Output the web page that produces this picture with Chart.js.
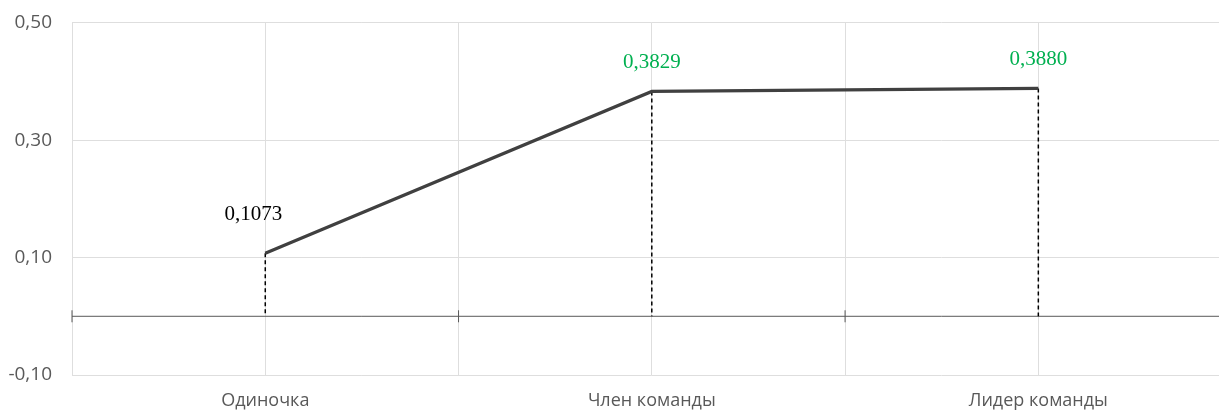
<!DOCTYPE html>
<html>
<head>
<meta charset="utf-8">
<script src="https://cdn.jsdelivr.net/npm/chart.js@4/dist/chart.umd.min.js"></script>
<style>
  html, body { margin: 0; padding: 0; overflow: hidden; background: #fff; }
  #wrap { position: relative; width: 1240px; height: 410px; }
</style>
</head>
<body>
<div id="wrap"><canvas id="myChart"></canvas></div>
<script>
// Données
var categories = ['Одиночка', 'Член команды', 'Лидер команды'];
var values = [0.1073, 0.3829, 0.3880];
var yTickValues = [-0.10, 0.10, 0.30, 0.50];

// Style des étiquettes (couleur, décalage)
var labelColors = ['#000000', '#00b050', '#00b050'];
var labelShift = [{ dx: -12, dy: -33 }, { dx: 0, dy: -23 }, { dx: 0, dy: -23 }];

function fmt(v, d) {
  return v.toFixed(d).replace('.', ',');
}

// Axe zéro + graduations, lignes de rappel, étiquettes
var extras = {
  id: 'extras',
  beforeDatasetsDraw: function(chart) {
    var ctx = chart.ctx, x = chart.scales.x, y = chart.scales.y;
    var y0 = y.getPixelForValue(0);
    var half = (x.getPixelForValue(1) - x.getPixelForValue(0)) / 2;
    ctx.save();
    // axe horizontal à 0
    ctx.strokeStyle = '#595959';
    ctx.lineWidth = 1;
    ctx.beginPath();
    ctx.moveTo(chart.chartArea.left, y0);
    ctx.lineTo(chart.chartArea.right, y0);
    for (var i = 0; i <= categories.length; i++) {
      var bx = x.getPixelForValue(0) - half + i * 2 * half;
      ctx.moveTo(bx, y0 - 6);
      ctx.lineTo(bx, y0 + 6);
    }
    ctx.stroke();
    // lignes de rappel
    ctx.strokeStyle = '#000';
    ctx.lineWidth = 1.5;
    ctx.setLineDash([4, 3]);
    values.forEach(function(v, i) {
      var px = x.getPixelForValue(i);
      ctx.beginPath();
      ctx.moveTo(px, y.getPixelForValue(v));
      ctx.lineTo(px, y0);
      ctx.stroke();
    });
    ctx.restore();
  },
  afterDatasetsDraw: function(chart) {
    var ctx = chart.ctx, x = chart.scales.x, y = chart.scales.y;
    ctx.save();
    ctx.font = '21px "Liberation Serif", "Times New Roman", serif';
    ctx.textAlign = 'center';
    ctx.textBaseline = 'alphabetic';
    values.forEach(function(v, i) {
      ctx.fillStyle = labelColors[i];
      ctx.fillText(fmt(v, 4), x.getPixelForValue(i) + labelShift[i].dx, y.getPixelForValue(v) + labelShift[i].dy);
    });
    ctx.restore();
  }
};

var ctx = document.getElementById('myChart').getContext('2d');
var myChart = new Chart(ctx, {
  type: 'line',
  data: {
    labels: categories,
    datasets: [{
      data: values,
      borderColor: '#404040',
      borderWidth: 3.2,
      pointRadius: 0,
      tension: 0,
      fill: false
    }]
  },
  options: {
    responsive: true,
    maintainAspectRatio: false,
    animation: false,
    layout: { padding: { top: 22.7, right: 8.4, left: 0, bottom: 0 } },
    plugins: { legend: { display: false }, tooltip: { enabled: false } },
    scales: {
      x: {
        offset: true,
        grid: { offset: false, color: '#dedede', lineWidth: 1, drawTicks: false },
        border: { display: false },
        ticks: { padding: 15, color: '#595959', font: { family: '"Open Sans"', size: 18 } },
        afterFit: function(scale) { scale.height = 35; }
      },
      x2: {
        type: 'category',
        labels: categories,
        offset: true,
        position: 'bottom',
        grid: { offset: true, color: '#dedede', lineWidth: 1, drawTicks: false },
        border: { display: false },
        ticks: { display: false },
        afterFit: function(scale) { scale.height = 0; }
      },
      y: {
        min: -0.1,
        max: 0.5,
        grid: { color: '#dedede', lineWidth: 1, drawTicks: false },
        border: { display: false },
        afterBuildTicks: function(scale) {
          scale.ticks = yTickValues.map(function(v) { return { value: v }; });
        },
        afterFit: function(scale) {
          scale.width = 72;
          scale.paddingTop = 0;
          scale.paddingBottom = 0;
        },
        ticks: {
          padding: 20,
          color: '#595959',
          font: { family: '"Open Sans"', size: 19 },
          callback: function(v) { return fmt(v, 2); }
        }
      }
    }
  },
  plugins: [extras]
});
</script>
</body>
</html>
